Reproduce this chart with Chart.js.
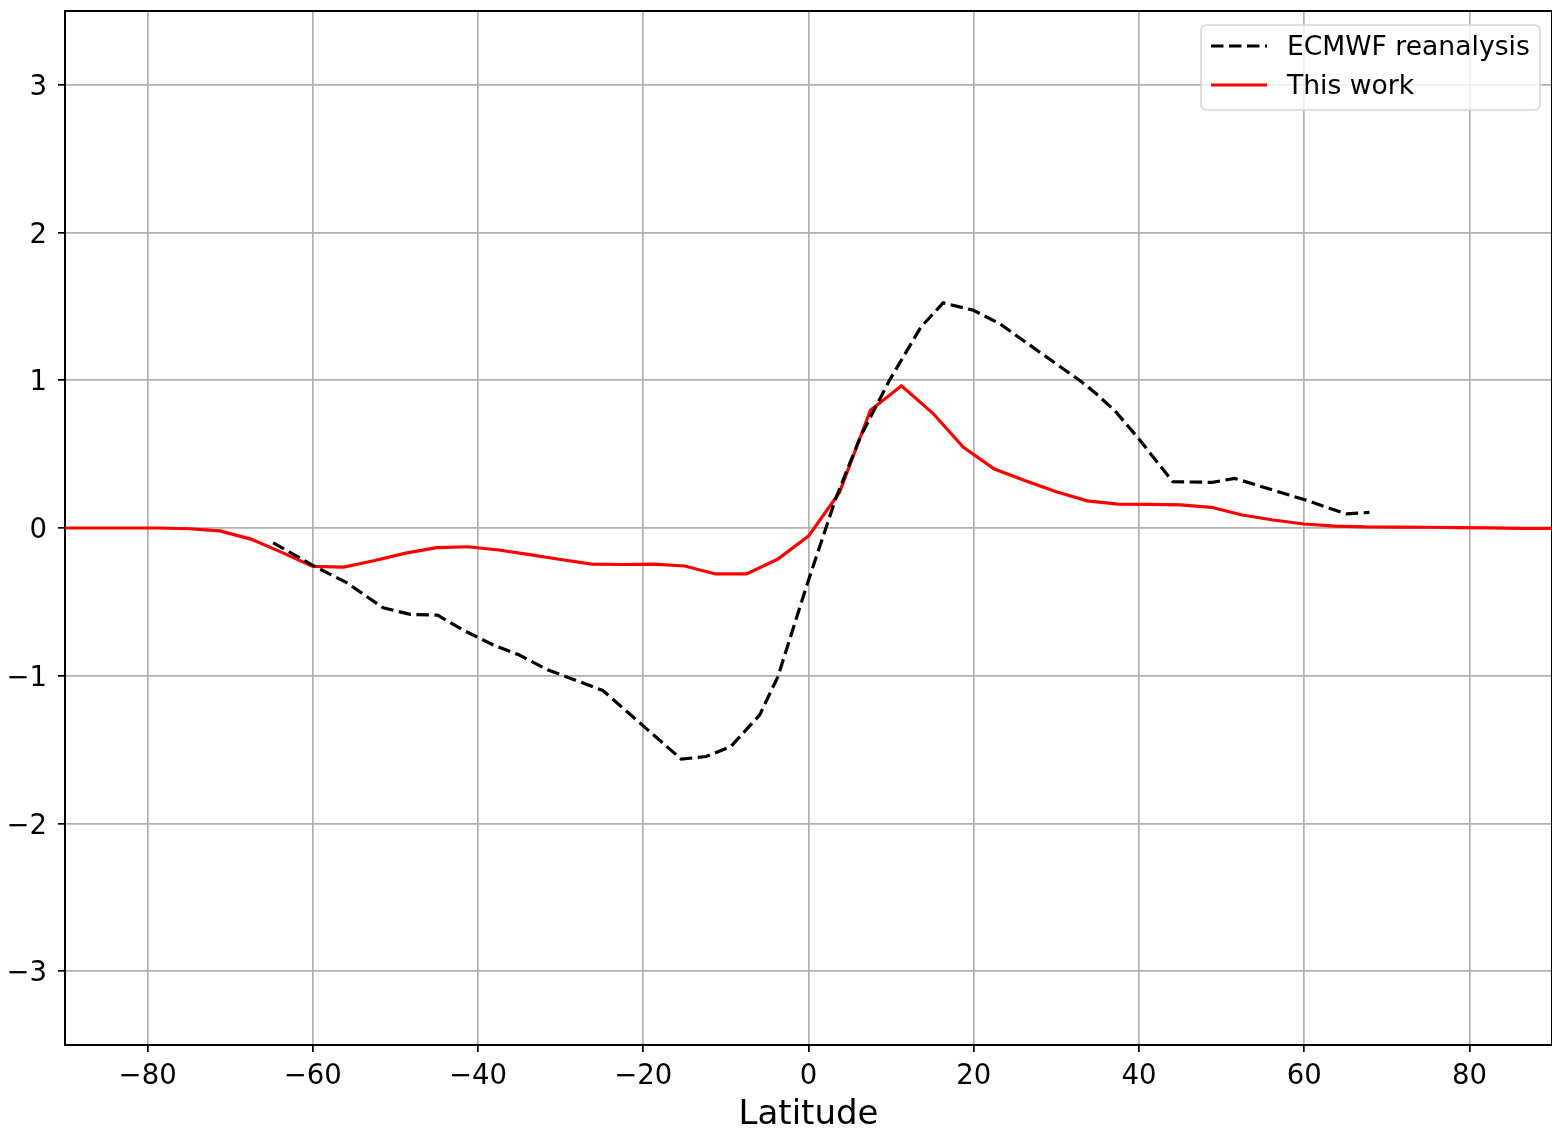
<!DOCTYPE html>
<html>
<head>
<meta charset="utf-8">
<script src="https://cdn.jsdelivr.net/npm/chart.js@4/dist/chart.umd.min.js"></script>
<style>
  html, body { margin: 0; padding: 0; background: #ffffff; overflow: hidden; }
  #c { display: block; }
</style>
</head>
<body>
<canvas id="c" width="1552" height="1136" style="width:1552px;height:1136px"></canvas>
<script>
// ---- Data ----
const seriesLabels = ["ECMWF reanalysis", "This work"];

const ecmwfLat = [-64.8, -59.8, -55.9, -51.5, -48.2, -44.9, -41.5, -38.2, -35.0, -31.6, -28.2, -24.9,
  -15.4, -12.4, -9.4, -5.9, -3.7, -0.1, 3.3, 6.3, 9.8, 13.6, 16.3, 19.9, 23.1, 28.0, 32.8, 34.8,
  37.2, 40.1, 44.1, 48.9, 51.6, 56.6, 60.2, 65.1, 67.9];
const ecmwfVal = [-0.10, -0.26, -0.37, -0.54, -0.585, -0.59, -0.70, -0.79, -0.86, -0.96, -1.03, -1.10,
  -1.565, -1.547, -1.48, -1.265, -1.006, -0.37, 0.20, 0.62, 1.00, 1.36, 1.524, 1.475, 1.385, 1.19, 1.00, 0.91,
  0.787, 0.595, 0.313, 0.309, 0.336, 0.25, 0.189, 0.095, 0.106];

const workLat = [-90, -86.25, -82.5, -78.75, -75, -71.25, -67.5, -63.75, -60, -56.25, -52.5, -48.75,
  -45, -41.25, -37.5, -33.75, -30, -26.25, -22.5, -18.75, -15, -11.25, -7.5, -3.75, 0,
  3.75, 7.5, 11.25, 15, 18.75, 22.5, 26.25, 30, 33.75, 37.5, 41.25, 45, 48.75, 52.5, 56.25,
  60, 63.75, 67.5, 71.25, 75, 78.75, 82.5, 86.25, 90];
const workVal = [0, 0, 0, 0, -0.005, -0.02, -0.075, -0.165, -0.26, -0.265, -0.22, -0.17,
  -0.133, -0.127, -0.149, -0.18, -0.213, -0.245, -0.247, -0.244, -0.257, -0.311, -0.311, -0.212, -0.055,
  0.241, 0.798, 0.963, 0.780, 0.546, 0.399, 0.32, 0.245, 0.184, 0.162, 0.16, 0.156, 0.14, 0.088, 0.054,
  0.027, 0.013, 0.007, 0.006, 0.005, 0.003, 0.001, -0.002, -0.003];

const xTicks = [-80, -60, -40, -20, 0, 20, 40, 60, 80];
const yTicks = [-3, -2, -1, 0, 1, 2, 3];
const xTitle = "Latitude";

// ---- Helpers ----
const pts = (xs, ys) => xs.map((x, i) => ({ x: x, y: ys[i] }));
const fmt = v => (v < 0 ? "\u2212" + Math.abs(v) : String(v));
const FONT = "'DejaVu Sans', sans-serif";

const frameAndLegend = {
  id: 'frameAndLegend',
  afterDraw(chart) {
    const ctx = chart.ctx;
    const a = chart.chartArea;
    ctx.save();
    ctx.strokeStyle = '#000';
    ctx.lineWidth = 2;
    ctx.beginPath();
    ctx.moveTo(a.left, a.top);
    ctx.lineTo(a.right, a.top);
    ctx.lineTo(a.right, a.bottom);
    ctx.stroke();

    const bx = 1201, by = 25, bw = 339, bh = 85, r = 6;
    ctx.fillStyle = 'rgba(255,255,255,0.8)';
    ctx.strokeStyle = '#d6d6d6';
    ctx.lineWidth = 1.6;
    ctx.beginPath();
    ctx.moveTo(bx + r, by);
    ctx.lineTo(bx + bw - r, by);
    ctx.quadraticCurveTo(bx + bw, by, bx + bw, by + r);
    ctx.lineTo(bx + bw, by + bh - r);
    ctx.quadraticCurveTo(bx + bw, by + bh, bx + bw - r, by + bh);
    ctx.lineTo(bx + r, by + bh);
    ctx.quadraticCurveTo(bx, by + bh, bx, by + bh - r);
    ctx.lineTo(bx, by + r);
    ctx.quadraticCurveTo(bx, by, bx + r, by);
    ctx.closePath();
    ctx.fill();
    ctx.stroke();

    const rows = [46, 85];
    chart.data.datasets.forEach((ds, i) => {
      const y = rows[i];
      ctx.strokeStyle = ds.borderColor;
      ctx.lineWidth = ds.borderWidth;
      ctx.setLineDash(ds.borderDash || []);
      ctx.beginPath();
      ctx.moveTo(1211, y);
      ctx.lineTo(1267, y);
      ctx.stroke();
      ctx.setLineDash([]);
      ctx.fillStyle = '#000';
      ctx.font = "26.6px " + FONT;
      ctx.textBaseline = 'middle';
      ctx.textAlign = 'left';
      ctx.fillText(ds.label, 1287, y + 2);
    });
    ctx.restore();
  }
};

new Chart(document.getElementById('c'), {
  type: 'line',
  data: {
    datasets: [
      {
        label: seriesLabels[0],
        data: pts(ecmwfLat, ecmwfVal),
        borderColor: '#000000',
        borderWidth: 3.2,
        borderDash: [12.5, 5.5],
        pointRadius: 0,
        tension: 0,
        fill: false
      },
      {
        label: seriesLabels[1],
        data: pts(workLat, workVal),
        borderColor: '#ff0000',
        borderWidth: 3.2,
        pointRadius: 0,
        tension: 0,
        fill: false
      }
    ]
  },
  options: {
    responsive: false,
    animation: false,
    devicePixelRatio: 1,
    layout: { padding: { top: 11, right: 0, left: 0, bottom: 0 } },
    plugins: {
      legend: { display: false },
      tooltip: { enabled: false }
    },
    scales: {
      x: {
        type: 'linear',
        min: -90,
        max: 90,
        afterBuildTicks: s => { s.ticks = xTicks.map(v => ({ value: v })); },
        afterFit: s => { s.height = 91; s.paddingLeft = 0; s.paddingRight = 0; },
        grid: { color: '#b0b0b0', lineWidth: 1.7, tickColor: '#000', tickLength: 7, tickWidth: 1.7 },
        border: { color: '#000', width: 2 },
        ticks: { callback: v => fmt(v), color: '#000', font: { family: FONT, size: 27.5 }, padding: 8, maxRotation: 0, autoSkip: false },
        title: { display: true, text: xTitle, color: '#000', font: { family: FONT, size: 34 }, padding: { top: 0, bottom: 0 } }
      },
      y: {
        type: 'linear',
        min: -3.5,
        max: 3.5,
        afterBuildTicks: s => { s.ticks = yTicks.map(v => ({ value: v })); },
        afterFit: s => { s.width = 65; s.paddingTop = 0; s.paddingBottom = 0; },
        grid: { color: '#b0b0b0', lineWidth: 1.7, tickColor: '#000', tickLength: 7, tickWidth: 1.7 },
        border: { color: '#000', width: 2 },
        ticks: { callback: v => fmt(v), color: '#000', font: { family: FONT, size: 27.5 }, padding: 11, labelOffset: 3, autoSkip: false }
      }
    }
  },
  plugins: [frameAndLegend]
});
</script>
</body>
</html>
